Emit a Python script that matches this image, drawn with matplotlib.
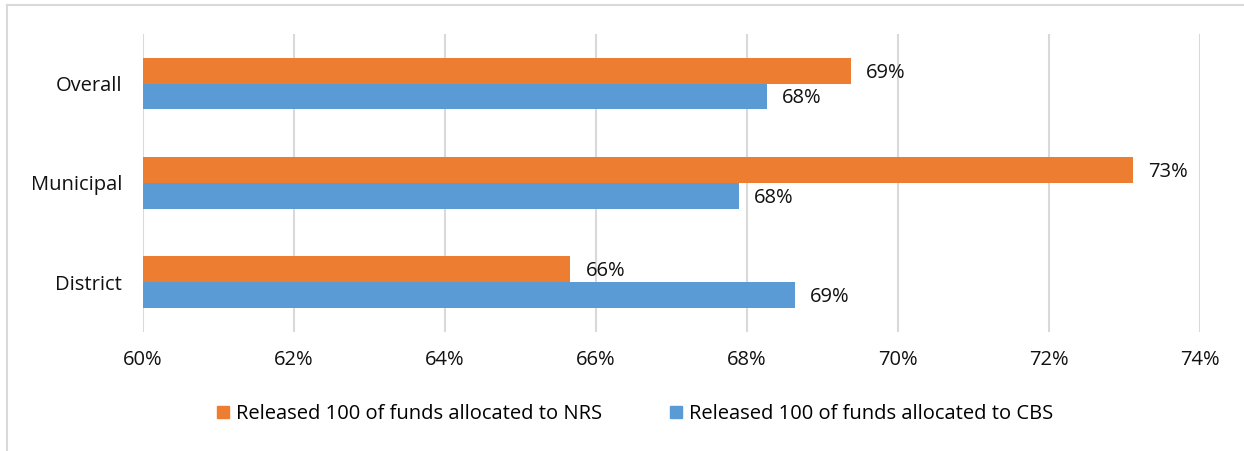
import matplotlib.pyplot as plt
from matplotlib.lines import Line2D
from matplotlib.ticker import FuncFormatter
import numpy as np

plt.rcParams['font.family'] = ['Open Sans', 'DejaVu Sans']

categories = ['District', 'Municipal', 'Overall']
nrs_share = [65.66, 73.11, 69.38]
cbs_share = [68.64, 67.89, 68.26]
series_labels = ['Released 100 of funds allocated to NRS',
                 'Released 100 of funds allocated to CBS']

orange = '#ED7D31'
blue = '#5B9BD5'
bar_h = 0.26
fs = 14.5

fig = plt.figure(figsize=(12.44, 4.51), dpi=100)
ax = fig.add_axes([0.115, 0.264, 0.8495, 0.661])

y = np.arange(len(categories))
ax.barh(y + bar_h / 2, nrs_share, height=bar_h, left=0, color=orange,
        label=series_labels[0], zorder=3)
ax.barh(y - bar_h / 2, cbs_share, height=bar_h, left=0, color=blue,
        label=series_labels[1], zorder=3)

# value labels sit just past the end of each bar
for yi, v in zip(y, nrs_share):
    ax.text(v + 0.2, yi + bar_h / 2 - 0.02, f'{v:.0f}%', va='center',
            ha='left', fontsize=fs, color='#111111')
for yi, v in zip(y, cbs_share):
    ax.text(v + 0.2, yi - bar_h / 2 - 0.02, f'{v:.0f}%', va='center',
            ha='left', fontsize=fs, color='#111111')

ax.set_xlim(60, 74)
ax.set_ylim(-0.5, 2.5)
ax.set_xticks(np.arange(60, 75, 2))
ax.xaxis.set_major_formatter(FuncFormatter(lambda v, _: f'{v:.0f}%'))
ax.set_yticks(y)
ax.set_yticklabels(categories)
ax.tick_params(axis='both', length=0, labelsize=fs, colors='#111111')
ax.tick_params(axis='x', pad=13)
ax.tick_params(axis='y', pad=15)
ax.grid(axis='x', color='#D9D9D9', linewidth=1.5, zorder=0)
for s in ax.spines.values():
    s.set_visible(False)

handles = [Line2D([], [], marker='s', linestyle='none', markersize=8,
                  color=c) for c in (orange, blue)]
fig.legend(handles, series_labels, loc='center', bbox_to_anchor=(0.51, 0.082),
           ncol=2, frameon=False, fontsize=fs, handletextpad=0.3,
           columnspacing=3.3, handlelength=0.7)

# chart frame edges
fig.add_artist(Line2D([0.006, 0.006], [0, 0.99], color='#D9D9D9', lw=1.5))
fig.add_artist(Line2D([0.006, 1.0], [0.99, 0.99], color='#D9D9D9', lw=1.5))

fig.savefig('out.png', dpi=100)
